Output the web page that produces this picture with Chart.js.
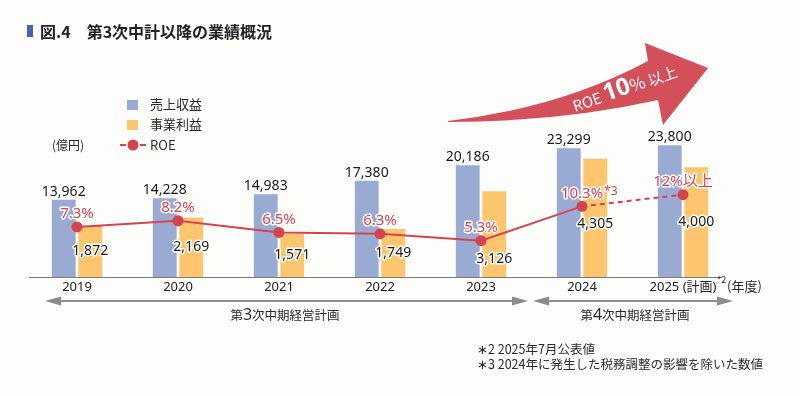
<!DOCTYPE html>
<html>
<head>
<meta charset="utf-8">
<script src="https://cdn.jsdelivr.net/npm/chart.js@4.4.1/dist/chart.umd.min.js"></script>
<style>
  html, body { margin: 0; padding: 0; background: #fdfdfc; }
  #wrap { position: relative; width: 800px; height: 396px; overflow: hidden; }
  #chart { position: absolute; left: 0; top: 0; }
  #overlay { position: absolute; left: 0; top: 0; pointer-events: none; }
  #overlay text { font-family: "Noto Sans CJK JP", "Noto Sans", sans-serif; fill: #2a2a2a; }
</style>
</head>
<body>
<div id="wrap">
  <canvas id="chart" width="800" height="396"></canvas>
  <svg id="overlay" width="800" height="396" viewBox="0 0 800 396">
    <!-- title -->
    <rect x="27" y="25" width="6" height="12" fill="#3f66b0"></rect>
    <text x="40" y="38" font-size="16" font-weight="bold" style="fill:#222">図.4　第3次中計以降の業績概況</text>

    <!-- big arrow -->
    <path d="M448,121 Q560,108 648,61 L645,43 L708,68 L663,125 L658,100 Q560,122 448,122 Z" fill="#d34f5a"></path>
    <g transform="rotate(-19 575 112)">
      <text x="575" y="112" style="fill:#fff"><tspan font-size="15">ROE </tspan><tspan font-size="24" font-weight="bold" font-family="Noto Sans">10</tspan><tspan font-size="17">%</tspan><tspan font-size="15"> 以上</tspan></text>
    </g>

    <!-- legend -->
    <rect x="127" y="100" width="11" height="10" fill="#9aabd3"></rect>
    <text x="150" y="109" font-size="13">売上収益</text>
    <rect x="127" y="120" width="11" height="10" fill="#fdc66e"></rect>
    <text x="150" y="129" font-size="13">事業利益</text>
    <line x1="119" y1="145" x2="147" y2="145" stroke="#d3444f" stroke-width="2" stroke-dasharray="6,4" stroke-dashoffset="-1"></line>
    <circle cx="133" cy="145" r="5.5" fill="#d3444f"></circle>
    <text x="150" y="150" font-size="13" font-family="Noto Sans">ROE</text>
    <text x="52" y="150" font-size="12">(億円)</text>

    <!-- axis notes -->
    <text x="717" y="283" font-size="9">*2</text>
    <text x="727" y="291" font-size="13">(年度)</text>

    <!-- plan arrows -->
    <line x1="55" y1="301" x2="518" y2="301" stroke="#8c8c8c" stroke-width="2"></line>
    <polygon points="45,301 61,296.5 61,305.5" fill="#8c8c8c"></polygon>
    <polygon points="528,301 512,296.5 512,305.5" fill="#8c8c8c"></polygon>
    <line x1="543" y1="301" x2="723" y2="301" stroke="#8c8c8c" stroke-width="2"></line>
    <polygon points="533,301 549,296.5 549,305.5" fill="#8c8c8c"></polygon>
    <polygon points="733,301 717,296.5 717,305.5" fill="#8c8c8c"></polygon>
    <text x="285" y="320" font-size="12.5" text-anchor="middle">第<tspan font-size="16" font-family="Noto Sans">3</tspan>次中期経営計画</text>
    <text x="635" y="320" font-size="12.5" text-anchor="middle">第<tspan font-size="16" font-family="Noto Sans">4</tspan>次中期経営計画</text>

    <!-- footnotes -->
    <text x="477" y="354" font-size="12.5">∗2 2025年7月公表値</text>
    <text x="477" y="369" font-size="12.5">∗3 2024年に発生した税務調整の影響を除いた数値</text>
  </svg>
</div>
<script>
// chart data
var years = ['2019', '2020', '2021', '2022', '2023', '2024', '2025 (計画)'];
var revenue = [13962, 14228, 14983, 17380, 20186, 23299, 23800];
var profit = [1872, 2169, 1571, 1749, 3126, 4305, 4000];
var roe = [7.3, 8.2, 6.5, 6.3, 5.3, 10.3, 12];
var roeLabels = ['7.3%', '8.2%', '6.5%', '6.3%', '5.3%', '10.3%', '12%以上'];
var roeNotes = ['', '', '', '', '', '*3', ''];

var BLUE = '#9aabd3';
var ORANGE = '#fdc66e';
var RED = '#d3444f';

// baseline under the bars
var baseLine = {
    id: 'baseLine',
    beforeDatasetsDraw: function (chart) {
        var ctx = chart.ctx;
        var area = chart.chartArea;
        ctx.save();
        ctx.strokeStyle = '#7a7a7a';
        ctx.lineWidth = 1.2;
        ctx.beginPath();
        ctx.moveTo(area.left + 2.5, area.bottom + 0.5);
        ctx.lineTo(area.right - 11.5, area.bottom + 0.5);
        ctx.stroke();
        ctx.restore();
    }
};

// value labels on bars and points
var valueLabels = {
    id: 'valueLabels',
    afterDatasetsDraw: function (chart) {
        var ctx = chart.ctx;
        var revMeta = chart.getDatasetMeta(0);
        var proMeta = chart.getDatasetMeta(1);
        var roeMeta = chart.getDatasetMeta(2);
        ctx.save();
        ctx.textAlign = 'center';
        ctx.lineJoin = 'round';
        ctx.font = '14px "Noto Sans", sans-serif';

        revMeta.data.forEach(function (bar, i) {
            ctx.textBaseline = 'bottom';
            ctx.fillStyle = '#1a1a1a';
            ctx.fillText(revenue[i].toLocaleString('en-US'), bar.x, bar.y - 1);
        });

        proMeta.data.forEach(function (bar, i) {
            var txt = profit[i].toLocaleString('en-US');
            var y = Math.max((bar.y + bar.base) / 2, roeMeta.data[i].y + 18);
            ctx.textBaseline = 'middle';
            ctx.strokeStyle = '#ffffff';
            ctx.lineWidth = 3;
            ctx.strokeText(txt, bar.x, y);
            ctx.fillStyle = '#1a1a1a';
            ctx.fillText(txt, bar.x, y);
        });

        roeMeta.data.forEach(function (pt, i) {
            var y = pt.y - 13;
            ctx.font = '15px "Noto Sans", "Noto Sans CJK JP", sans-serif';
            ctx.textAlign = 'center';
            ctx.textBaseline = 'middle';
            ctx.strokeStyle = '#ffffff';
            ctx.lineWidth = 3;
            ctx.strokeText(roeLabels[i], pt.x, y);
            ctx.fillStyle = RED;
            ctx.fillText(roeLabels[i], pt.x, y);
            if (roeNotes[i]) {
                var w = ctx.measureText(roeLabels[i]).width;
                ctx.font = '12px "Noto Sans", sans-serif';
                ctx.textAlign = 'left';
                ctx.strokeText(roeNotes[i], pt.x + w / 2 + 1, y - 2);
                ctx.fillText(roeNotes[i], pt.x + w / 2 + 1, y - 2);
            }
        });
        ctx.restore();
    }
};

var ctx = document.getElementById('chart');
new Chart(ctx, {
    type: 'bar',
    data: {
        labels: years,
        datasets: [
            {
                label: '売上収益',
                data: revenue,
                backgroundColor: BLUE,
                yAxisID: 'yRev',
                order: 2,
                barPercentage: 0.9,
                categoryPercentage: 0.525
            },
            {
                label: '事業利益',
                data: profit,
                backgroundColor: ORANGE,
                yAxisID: 'yPro',
                order: 2,
                barPercentage: 0.9,
                categoryPercentage: 0.525
            },
            {
                type: 'line',
                label: 'ROE',
                data: roe,
                yAxisID: 'yRoe',
                order: 0,
                borderColor: RED,
                backgroundColor: RED,
                borderWidth: 2,
                pointRadius: 5.5,
                pointBackgroundColor: RED,
                pointBorderColor: RED,
                pointBorderWidth: 0,
                tension: 0,
                segment: {
                    borderDash: function (c) { return c.p0DataIndex >= 5 ? [5, 4] : undefined; }
                }
            }
        ]
    },
    options: {
        responsive: false,
        animation: false,
        layout: {
            padding: { left: 26.5, right: 66.5, top: 100, bottom: 99.4 }
        },
        plugins: {
            legend: { display: false },
            tooltip: { enabled: false }
        },
        scales: {
            x: {
                grid: { display: false, drawTicks: false },
                border: { display: false },
                ticks: {
                    color: '#222',
                    padding: 2,
                    font: { family: '"Noto Sans", "Noto Sans CJK JP", sans-serif', size: 13 }
                }
            },
            yRev: { display: false, min: 0, max: 32000 },
            yPro: { display: false, min: 0, max: 6450 },
            yRoe: { display: false, min: 0, max: 25.8 }
        }
    },
    plugins: [baseLine, valueLabels]
});
</script>
</body>
</html>
